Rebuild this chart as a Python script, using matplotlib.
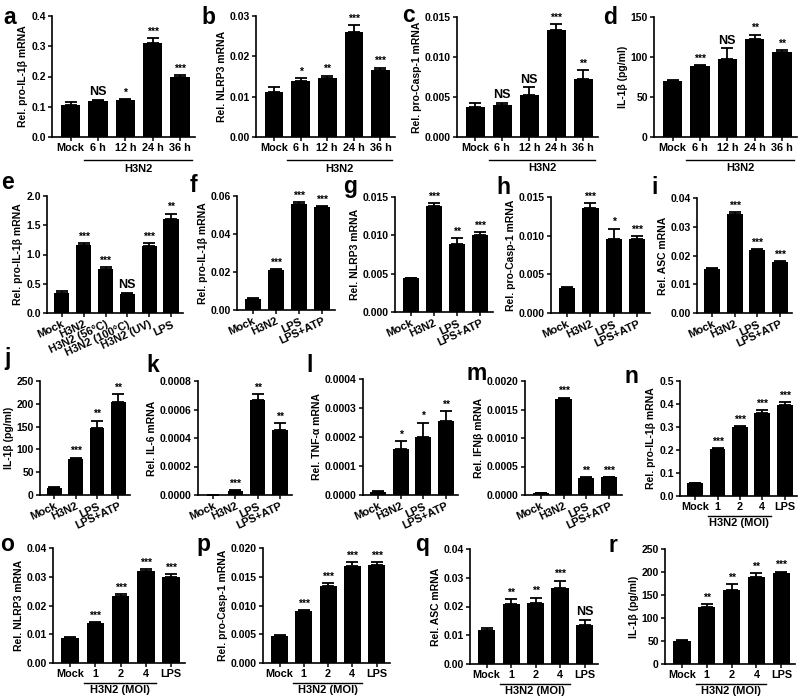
import matplotlib
matplotlib.use("Agg")
import matplotlib.pyplot as plt

plt.rcParams['font.family'] = ['Liberation Sans', 'DejaVu Sans']
plt.rcParams['font.weight'] = 'bold'
plt.rcParams['axes.labelweight'] = 'bold'

W, H = 800, 697

# ---- data ----
time_cats = ["Mock", "6 h", "12 h", "24 h", "36 h"]
trt_cats = ["Mock", "H3N2", "LPS", "LPS+ATP"]
e_cats = ["Mock", "H3N2", "H3N2 (56°C)", "H3N2 (100°C)", "H3N2 (UV)", "LPS"]
moi_cats = ["Mock", "1", "2", "4", "LPS"]

a_vals = [0.105, 0.118, 0.122, 0.312, 0.200]
a_errs = [0.012, 0.005, 0.004, 0.015, 0.004]
a_sig = ["", "NS", "*", "***", "***"]

b_vals = [0.0111, 0.0140, 0.0146, 0.0260, 0.0167]
b_errs = [0.0012, 0.0006, 0.0006, 0.0017, 0.0005]
b_sig = ["", "*", "**", "***", "***"]

c_vals = [0.0038, 0.0040, 0.0053, 0.0134, 0.0072]
c_errs = [0.0004, 0.0003, 0.0009, 0.0007, 0.0012]
c_sig = ["", "NS", "NS", "***", "**"]

d_vals = [70, 89, 98, 123, 106]
d_errs = [1, 1, 13, 5, 3]
d_sig = ["", "***", "NS", "**", "**"]

e_vals = [0.35, 1.17, 0.75, 0.33, 1.15, 1.60]
e_errs = [0.02, 0.03, 0.04, 0.02, 0.05, 0.10]
e_sig = ["", "***", "***", "NS", "***", "**"]

f_vals = [0.006, 0.021, 0.056, 0.054]
f_errs = [0.0003, 0.0004, 0.0007, 0.0008]
f_sig = ["", "***", "***", "***"]

g_vals = [0.0044, 0.0138, 0.0089, 0.0101]
g_errs = [0.0001, 0.0004, 0.0007, 0.0003]
g_sig = ["", "***", "**", "***"]

h_vals = [0.0032, 0.0136, 0.0096, 0.0096]
h_errs = [0.0002, 0.0006, 0.0013, 0.0003]
h_sig = ["", "***", "*", "***"]

i_vals = [0.0153, 0.0345, 0.0218, 0.0178]
i_errs = [0.0003, 0.0005, 0.0004, 0.0003]
i_sig = ["", "***", "***", "***"]

j_vals = [15, 80, 148, 203]
j_errs = [2, 2, 15, 18]
j_sig = ["", "***", "**", "**"]

k_vals = [0.000002, 0.00003, 0.00067, 0.000455]
k_errs = [0.000001, 0.000003, 0.00004, 0.00005]
k_sig = ["", "***", "**", "**"]

l_vals = [0.000012, 0.000157, 0.0002, 0.000255]
l_errs = [0.000003, 0.00003, 0.00005, 0.000033]
l_sig = ["", "*", "*", "**"]

m_vals = [0.00003, 0.00168, 0.0003, 0.00031]
m_errs = [0.00001, 0.00003, 0.00002, 0.00001]
m_sig = ["", "***", "**", "***"]

n_vals = [0.055, 0.203, 0.300, 0.360, 0.395]
n_errs = [0.003, 0.005, 0.005, 0.013, 0.013]
n_sig = ["", "***", "***", "***", "***"]

o_vals = [0.0088, 0.0140, 0.0232, 0.0320, 0.0298]
o_errs = [0.0004, 0.0003, 0.0007, 0.0007, 0.0010]
o_sig = ["", "***", "***", "***", "***"]

p_vals = [0.0047, 0.0090, 0.0134, 0.0169, 0.0170]
p_errs = [0.0001, 0.0002, 0.0005, 0.0007, 0.0006]
p_sig = ["", "***", "***", "***", "***"]

q_vals = [0.0118, 0.0207, 0.0212, 0.0264, 0.0137]
q_errs = [0.0008, 0.0020, 0.0019, 0.0026, 0.0017]
q_sig = ["", "**", "**", "***", "NS"]

r_vals = [50, 124, 160, 189, 198]
r_errs = [2, 6, 14, 9, 3]
r_sig = ["", "**", "**", "**", "***"]

fig = plt.figure(figsize=(W / 100, H / 100), dpi=100)


def panel(rect, letter, letter_xy, cats, vals, errs, sig, ymax, step, ndec,
          ylabel, rot=0, group=None):
    l, t, r, b = rect
    ax = fig.add_axes([l / W, 1 - b / H, (r - l) / W, (b - t) / H])
    n = len(vals)
    x = list(range(n))
    ax.bar(x, vals, width=0.7, color='black', zorder=2)
    ax.errorbar(x, vals, yerr=[[0] * n, errs], fmt='none', ecolor='black',
                elinewidth=1.3, capsize=4, capthick=1.3, zorder=1)
    for xi, v, e, s in zip(x, vals, errs, sig):
        if s:
            fs = 9 if s == "NS" else 7.5
            ax.annotate(s, (xi, v + e), xytext=(0, 1), textcoords='offset points',
                        ha='center', va='bottom', fontsize=fs, fontweight='bold')
    ax.set_xlim(-0.68, n - 1 + 0.55)
    ax.set_ylim(0, ymax)
    nt = int(round(ymax / step))
    ticks = [k * step for k in range(nt + 1)]
    ax.set_yticks(ticks)
    ax.set_yticklabels([f"{v:.{ndec}f}" for v in ticks], fontsize=7.5, fontweight='bold')
    ax.set_xticks(x)
    if rot:
        ax.set_xticklabels(cats, rotation=rot, ha='right', rotation_mode='anchor',
                           fontsize=8, fontweight='bold')
    else:
        ax.set_xticklabels(cats, fontsize=7.8, fontweight='bold')
    for sp in ['top', 'right']:
        ax.spines[sp].set_visible(False)
    for sp in ['left', 'bottom']:
        ax.spines[sp].set_linewidth(1.2)
    ax.tick_params(axis='both', length=3, width=1.1, pad=1.5)
    ax.set_ylabel(ylabel, fontsize=7.5, fontweight='bold', labelpad=2)
    if group:
        x0, x1, ly, ty, txt = group
        ax.plot([x0, x1], [ly, ly], color='black', lw=1.0,
                transform=ax.get_xaxis_transform(), clip_on=False)
        ax.text((x0 + x1) / 2, ty, txt, transform=ax.get_xaxis_transform(),
                ha='center', va='top', fontsize=8, fontweight='bold')
    fig.text(letter_xy[0] / W, 1 - letter_xy[1] / H, letter, fontsize=16.5,
             fontweight='bold', ha='left', va='baseline')
    return ax


time_grp = (0.5, 4.45, -0.19, -0.22, "H3N2")
moi_grp = (0.55, 3.4, -0.17, -0.19, "H3N2 (MOI)")

# row 1
panel((52, 16, 195, 137), "a", (3, 24), time_cats, a_vals, a_errs, a_sig,
      0.4, 0.1, 1, "Rel. pro-IL-1β mRNA", group=time_grp)
panel((256, 16, 395, 137), "b", (201, 24), time_cats, b_vals, b_errs, b_sig,
      0.03, 0.01, 2, "Rel. NLRP3 mRNA", group=time_grp)
panel((457, 17, 598, 137), "c", (402, 22), time_cats, c_vals, c_errs, c_sig,
      0.015, 0.005, 3, "Rel. pro-Casp-1 mRNA", group=time_grp)
panel((654, 17, 797, 137), "d", (603, 24), time_cats, d_vals, d_errs, d_sig,
      150, 50, 0, "IL-1β (pg/ml)", group=time_grp)

# row 2
panel((47, 196, 183, 313), "e", (1, 189), e_cats, e_vals, e_errs, e_sig,
      2.0, 0.5, 1, "Rel. pro-IL-1β mRNA", rot=25)
panel((237, 196, 335, 310), "f", (190, 192), trt_cats, f_vals, f_errs, f_sig,
      0.06, 0.02, 2, "Rel. pro-IL-1β mRNA", rot=25)
panel((395, 197, 493, 312), "g", (343, 193), trt_cats, g_vals, g_errs, g_sig,
      0.015, 0.005, 3, "Rel. NLRP3 mRNA", rot=25)
panel((551, 197, 650, 313), "h", (496, 194), trt_cats, h_vals, h_errs, h_sig,
      0.015, 0.005, 3, "Rel. pro-Casp-1 mRNA", rot=25)
panel((697, 198, 792, 313), "i", (651, 194), trt_cats, i_vals, i_errs, i_sig,
      0.04, 0.01, 2, "Rel. ASC mRNA", rot=25)

# row 3
panel((40, 381, 130, 495), "j", (4, 365), trt_cats, j_vals, j_errs, j_sig,
      250, 50, 0, "IL-1β (pg/ml)", rot=25)
panel((198, 381, 292, 495), "k", (146, 372), trt_cats, k_vals, k_errs, k_sig,
      0.0008, 0.0002, 4, "Rel. IL-6 mRNA", rot=25)
panel((363, 379, 458, 495), "l", (306, 372), trt_cats, l_vals, l_errs, l_sig,
      0.0004, 0.0001, 4, "Rel. TNF-α mRNA", rot=25)
panel((525, 381, 622, 495), "m", (466, 380), trt_cats, m_vals, m_errs, m_sig,
      0.002, 0.0005, 4, "Rel. IFNβ mRNA", rot=25)
panel((680, 381, 797, 496), "n", (625, 383), moi_cats, n_vals, n_errs, n_sig,
      0.5, 0.1, 1, "Rel. pro-IL-1β mRNA", group=moi_grp)

# row 4
panel((53, 548, 185, 663), "o", (0, 551), moi_cats, o_vals, o_errs, o_sig,
      0.04, 0.01, 2, "Rel. NLRP3 mRNA", group=moi_grp)
panel((263, 548, 390, 663), "p", (196, 551), moi_cats, p_vals, p_errs, p_sig,
      0.02, 0.005, 3, "Rel. pro-Casp-1 mRNA", group=moi_grp)
panel((470, 549, 598, 664), "q", (415, 551), moi_cats, q_vals, q_errs, q_sig,
      0.04, 0.01, 2, "Rel. ASC mRNA", group=moi_grp)
panel((665, 549, 795, 664), "r", (609, 552), moi_cats, r_vals, r_errs, r_sig,
      250, 50, 0, "IL-1β (pg/ml)", group=moi_grp)

fig.savefig("out.png", dpi=100)
